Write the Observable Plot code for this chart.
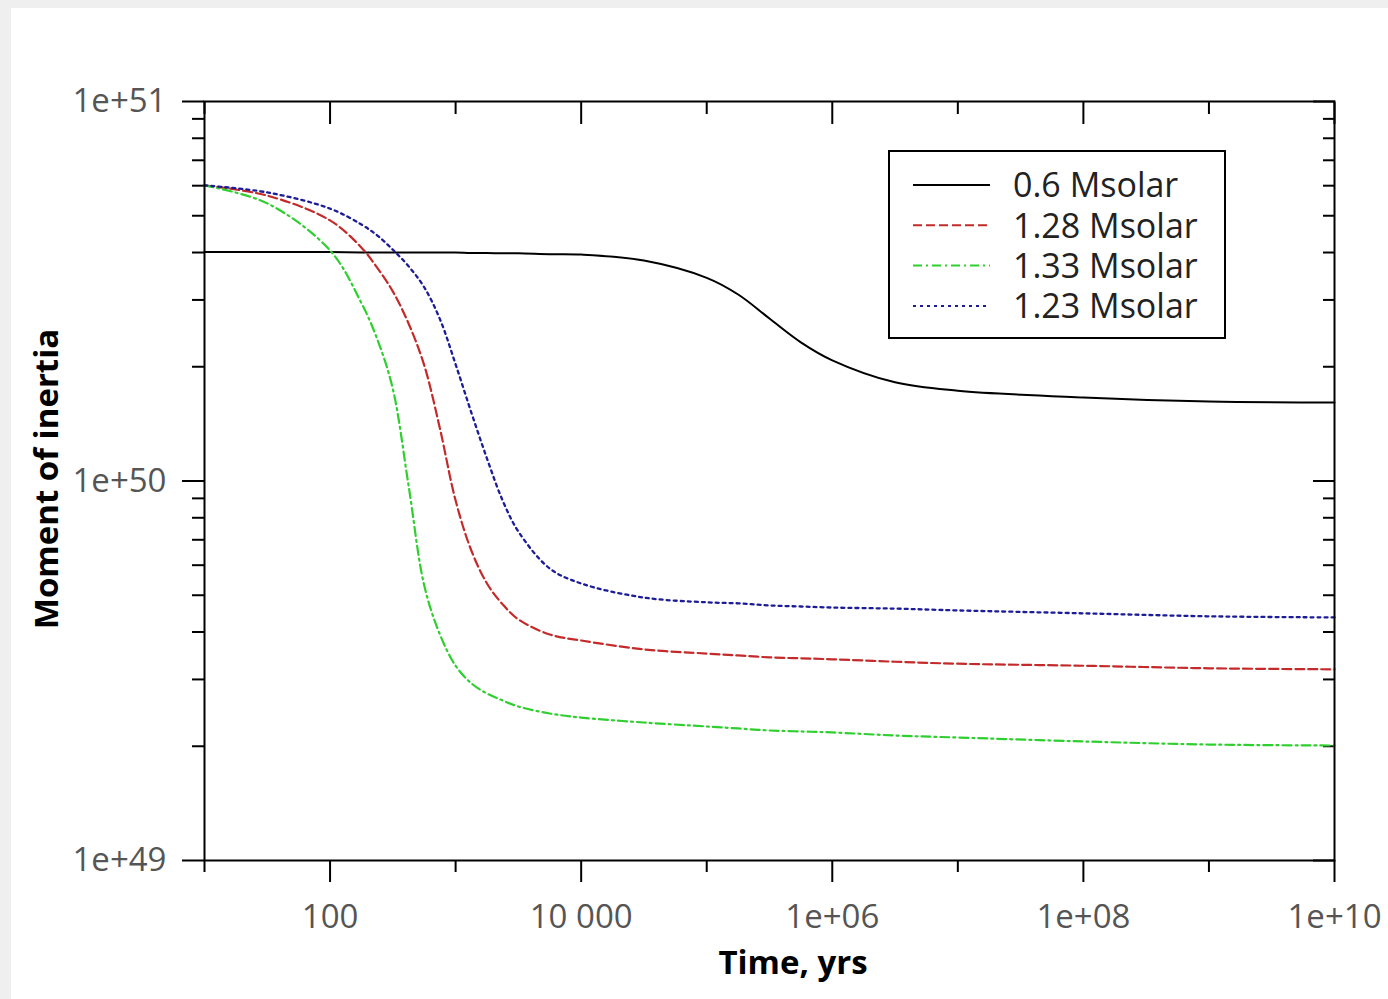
<!DOCTYPE html>
<html><head><meta charset="utf-8">
<script src="https://cdn.jsdelivr.net/npm/d3@7"></script>
<script src="https://cdn.jsdelivr.net/npm/@observablehq/plot@0.6"></script>
<style>
html,body{margin:0;padding:0;background:#efefef;}
#card{position:absolute;left:11px;top:8px;width:1377px;height:991px;background:#fff;overflow:hidden;}
#chart{position:absolute;left:0;top:0;}
.title{position:absolute;font-family:'Open Sans',sans-serif;font-weight:bold;font-size:33px;line-height:33px;color:#000;white-space:nowrap;}
#xtitle{left:782px;top:937px;transform:translateX(-50%);}
#ytitle{left:34px;top:471px;transform:translate(-50%,-50%) rotate(-90deg);}
#legend{position:absolute;left:877px;top:142px;}
</style>
</head><body>
<div id="card">
  <div id="chart"></div>
  <div class="title" id="xtitle">Time, yrs</div>
  <div class="title" id="ytitle">Moment of inertia</div>
  <svg id="legend" width="340" height="192"></svg>
</div>
<script>
// Time grid (years)
const times = [10, 31.6, 100, 178, 237, 316, 422, 562, 750, 1000, 1334, 1778, 2371, 3162, 5623,
  1e4, 3.16e4, 1e5, 1.78e5, 3.16e5, 5.62e5, 1e6, 3.16e6, 1e7, 1e8, 1e9, 1e10];
// Moment of inertia, in units of 1e50
const unit = 1e50;
const m060 = [4.01, 4.01, 4.01, 4.0, 4.0, 4.0, 4.0, 4.0, 4.0, 4.0, 3.99, 3.99, 3.98, 3.98, 3.96,
  3.95, 3.81, 3.43, 3.10, 2.68, 2.32, 2.08, 1.82, 1.73, 1.66, 1.62, 1.61];
const m128 = [6.01, 5.65, 4.86, 4.12, 3.65, 3.16, 2.60, 2.02, 1.375, 0.888, 0.656, 0.537, 0.473, 0.432, 0.394,
  0.380, 0.360, 0.351, 0.347, 0.343, 0.341, 0.339, 0.334, 0.330, 0.326, 0.321, 0.319];
const m133 = [6.01, 5.39, 4.05, 2.94, 2.37, 1.75, 0.973, 0.531, 0.394, 0.326, 0.293, 0.2755, 0.264, 0.2545, 0.244,
  0.238, 0.231, 0.2255, 0.2228, 0.2201, 0.2188, 0.2175, 0.2135, 0.2109, 0.2059, 0.2021, 0.2009];
const m123 = [6.01, 5.76, 5.22, 4.74, 4.44, 4.07, 3.68, 3.24, 2.67, 2.03, 1.515, 1.146, 0.888, 0.736, 0.588,
  0.537, 0.493, 0.479, 0.476, 0.470, 0.467, 0.464, 0.461, 0.456, 0.448, 0.440, 0.437];
const seriesNames = ["0.6 Msolar", "1.28 Msolar", "1.33 Msolar", "1.23 Msolar"];
const seriesValues = [m060, m128, m133, m123];

const xMajorTicks = [100, 1e4, 1e6, 1e8, 1e10];
const xTickLabels = ["100", "10 000", "1e+06", "1e+08", "1e+10"];
const xMinorTicks = [10, 1e3, 1e5, 1e7, 1e9];
const yMajorTicks = [1e49, 1e50, 1e51];
const yTickLabels = ["1e+49", "1e+50", "1e+51"];
const yMinorTicks = [2e49, 3e49, 4e49, 5e49, 6e49, 7e49, 8e49, 9e49,
  2e50, 3e50, 4e50, 5e50, 6e50, 7e50, 8e50, 9e50];

// styles (kept apart from data)
const styles = {
  "0.6 Msolar": {stroke: "#000000", strokeWidth: 2, dash: null},
  "1.28 Msolar": {stroke: "#c42a2a", strokeWidth: 2.2, dash: "9,4"},
  "1.33 Msolar": {stroke: "#2fcf2f", strokeWidth: 2.2, dash: "9,4,2,4"},
  "1.23 Msolar": {stroke: "#1c1c99", strokeWidth: 2.3, dash: "3,4"}
};

const data = seriesNames.flatMap((name, s) =>
  times.map((t, i) => ({name, t, I: seriesValues[s][i] * unit})));

const xLab = new Map(xMajorTicks.map((v, i) => [v, xTickLabels[i]]));
const yLab = new Map(yMajorTicks.map((v, i) => [v, yTickLabels[i]]));
const blank = () => "";
const tickColor = "#000";
const labelColor = "#555";
const tk = {tickFormat: blank, stroke: tickColor, strokeWidth: 2, label: null};

const plot = Plot.plot({
  width: 1377, height: 991,
  marginLeft: 193, marginRight: 54, marginTop: 93, marginBottom: 139,
  style: {fontFamily: "'Open Sans', sans-serif", fontSize: "33px", background: "white", overflow: "visible"},
  x: {type: "log", domain: [10, 1e10], axis: null},
  y: {type: "log", domain: [1e49, 1e51], axis: null},
  marks: [
    // bottom: outward ticks
    Plot.axisX({anchor: "bottom", ticks: xMajorTicks, tickSize: 22, ...tk}),
    Plot.axisX({anchor: "bottom", ticks: xMinorTicks, tickSize: 12, ...tk}),
    Plot.axisX({anchor: "bottom", ticks: xMajorTicks, tickSize: 0, tickPadding: 44, label: null,
      tickFormat: d => xLab.get(d), fill: labelColor, fontSize: 33}),
    // top: inward ticks
    Plot.axisX({anchor: "top", ticks: xMajorTicks, tickSize: -22, ...tk}),
    Plot.axisX({anchor: "top", ticks: xMinorTicks, tickSize: -12, ...tk}),
    // left: outward ticks
    Plot.axisY({anchor: "left", ticks: yMajorTicks, tickSize: 22, ...tk}),
    Plot.axisY({anchor: "left", ticks: yMinorTicks, tickSize: 12, ...tk}),
    Plot.axisY({anchor: "left", ticks: yMajorTicks, tickSize: 0, tickPadding: 38, label: null,
      tickFormat: d => yLab.get(d), fill: labelColor, fontSize: 33}),
    // right: inward ticks
    Plot.axisY({anchor: "right", ticks: yMajorTicks, tickSize: -22, ...tk}),
    Plot.axisY({anchor: "right", ticks: yMinorTicks, tickSize: -12, ...tk}),
    ...seriesNames.map(name => Plot.line(data.filter(d => d.name === name), {
      x: "t", y: "I", curve: "catmull-rom",
      stroke: styles[name].stroke, strokeWidth: styles[name].strokeWidth,
      strokeDasharray: styles[name].dash
    })),
    Plot.frame({stroke: "#000", strokeWidth: 2})
  ]
});
document.getElementById("chart").appendChild(plot);

// Legend inside the plot frame
const lg = d3.select("#legend");
lg.append("rect").attr("x", 1).attr("y", 1).attr("width", 336).attr("height", 187)
  .attr("fill", "#fff").attr("stroke", "#000").attr("stroke-width", 2);
seriesNames.forEach((name, i) => {
  const cy = 35 + i * 40.3;
  lg.append("line").attr("x1", 25).attr("x2", 102).attr("y1", cy).attr("y2", cy)
    .attr("stroke", styles[name].stroke).attr("stroke-width", 2)
    .attr("stroke-dasharray", styles[name].dash);
  lg.append("text").attr("x", 125).attr("y", cy).attr("dy", "0.36em")
    .attr("font-family", "'Open Sans', sans-serif").attr("font-size", 34).attr("fill", "#222")
    .text(name);
});
</script>
</body></html>
